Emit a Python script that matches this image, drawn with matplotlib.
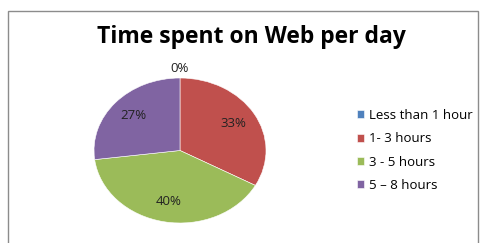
import matplotlib
matplotlib.use("Agg")
import matplotlib.pyplot as plt
from matplotlib.patches import Rectangle
import numpy as np

categories = ["Less than 1 hour", "1- 3 hours", "3 - 5 hours", "5 \u2013 8 hours"]
values = [0, 33, 40, 27]
colors = ["#4F81BD", "#C0504D", "#9BBB59", "#8064A2"]

plt.rcParams['font.family'] = ['Open Sans', 'DejaVu Sans']

W, H = 482, 243
fig = plt.figure(figsize=(W/100, H/100), dpi=100)

# outer frame
fig.patches.append(Rectangle((8/W, -0.2), (478-8)/W, 1.2 - 11/H, transform=fig.transFigure,
                             fill=False, edgecolor="#8c8c8c", linewidth=1.0))

fig.text(251/W, 1 - 37/H, "Time spent on Web per day", ha="center", va="center",
         fontsize=16.5, fontweight="bold", color="black")

ax = fig.add_axes([94/W, 20/H, 172/W, 145/H])
wedges, texts = ax.pie(values, colors=colors, startangle=90, counterclock=False,
                       wedgeprops=dict(edgecolor="white", linewidth=0.4))
ax.set_aspect('auto')
ax.set_xlim(-1, 1)
ax.set_ylim(-1, 1)
ax.axis('off')

total = sum(values)
ang = 90.0
for v in values:
    span = 360.0 * v / total
    mid = np.deg2rad(ang - span / 2)
    r = 1.13 if v == 0 else 0.72
    ax.text(r * np.cos(mid), r * np.sin(mid), f"{round(100*v/total)}%",
            ha="center", va="center", fontsize=9.5, color="#222222")
    ang -= span

fig.legend(wedges, categories, loc="upper left", bbox_to_anchor=(357/W, 1 - 109/H),
           frameon=False, fontsize=9.5, handlelength=0.55, handleheight=0.55,
           handletextpad=0.35, labelspacing=0.78, borderaxespad=0, borderpad=0)

fig.savefig("out.png", dpi=100)
